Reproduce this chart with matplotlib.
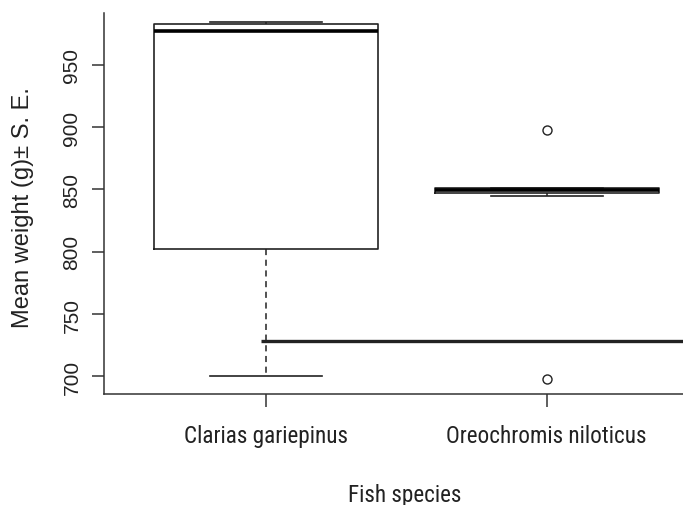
import matplotlib
matplotlib.use("Agg")
import matplotlib.pyplot as plt
from matplotlib import font_manager

# values
species = ["Clarias gariepinus", "Oreochromis niloticus"]
whis_lo = [700, 845]
q1 = [802, 847.5]
medians = [977, 849.5]
q3 = [983, 851]
whis_hi = [984, 851]
outliers = [[], [898, 698]]
ref_line = 728      # horizontal line drawn across the plot
ref_start = 0.98    # where that line starts (x)

ink = "#222222"
plt.rcParams["font.family"] = "Liberation Sans"

# the x labels in the reference use a narrow face; use one if there is one
names = {f.name for f in font_manager.fontManager.ttflist}
narrow = dict(fontfamily="Liberation Sans")
for n in ["Liberation Sans Narrow", "Roboto Condensed", "Open Sans Condensed"]:
    if n in names:
        narrow = dict(fontfamily=n)
        break
else:
    for f in font_manager.fontManager.ttflist:
        if f.stretch == "condensed" and f.name in ("Liberation Sans", "Roboto", "Open Sans", "DejaVu Sans"):
            narrow = dict(fontfamily=f.name, fontstretch="condensed")
            break

fig = plt.figure(figsize=(6.83, 5.06), dpi=100)
ax = fig.add_axes([104 / 683, 111 / 506, 605 / 683, 381 / 506])

stats = []
for i in range(len(species)):
    stats.append({
        "label": species[i],
        "whislo": whis_lo[i],
        "q1": q1[i],
        "med": medians[i],
        "q3": q3[i],
        "whishi": whis_hi[i],
        "fliers": outliers[i],
    })

ax.bxp(stats, positions=[1, 2], widths=0.8, capwidths=0.4,
       boxprops=dict(color=ink, linewidth=1.2),
       medianprops=dict(color="black", linewidth=2.6, solid_capstyle="butt"),
       whiskerprops=dict(color=ink, linewidth=1.1, linestyle=(0, (4, 3))),
       capprops=dict(color=ink, linewidth=1.2),
       flierprops=dict(marker="o", markerfacecolor="none", markeredgecolor=ink,
                       markersize=6.5, markeredgewidth=1.0))

ax.hlines(ref_line, ref_start, 3, color=ink, linewidth=2.4)

ax.set_xlim(0.42, 2.58)
ax.set_ylim(685.8, 991.6)

ax.spines["top"].set_visible(False)
ax.spines["right"].set_visible(False)
for s in ["left", "bottom"]:
    ax.spines[s].set_color("#333333")
    ax.spines[s].set_linewidth(1.1)

ax.set_yticks([700, 750, 800, 850, 900, 950])
ax.tick_params(axis="y", length=8.6, width=1.1, color="#333333", pad=7.6,
               labelsize=15, labelcolor=ink, labelrotation=90)
for t in ax.get_yticklabels():
    t.set_verticalalignment("center")

ax.set_xticks([1, 2])
ax.set_xticklabels(species, fontsize=16.5, color=ink, **narrow)
ax.tick_params(axis="x", length=9.4, width=1.1, color="#333333", pad=12)

xlab = fig.text(405 / 683, 1 - 501.7 / 506, "Fish species", ha="center", va="baseline",
                fontsize=16.5, color=ink, **narrow)
fig.text(23 / 683, 1 - 207.5 / 506, "Mean weight (g)± S. E.", rotation=90,
         ha="center", va="center", fontsize=17, color=ink)

# size the horizontal labels so "Clarias gariepinus" is about as wide as in the reference
fig.canvas.draw()
r = fig.canvas.get_renderer()
w = ax.get_xticklabels()[0].get_window_extent(r).width
scale = min(1.1, 164 / w)
for t in ax.get_xticklabels() + [xlab]:
    t.set_fontsize(16.5 * scale)

fig.savefig("out.png", dpi=100)
